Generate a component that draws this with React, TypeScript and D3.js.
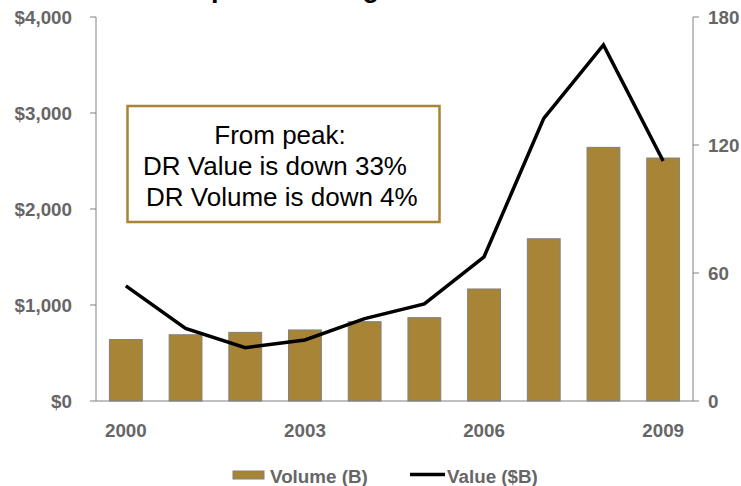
import React from "react";
import * as d3 from "d3";

const years = ["2000","2001","2002","2003","2004","2005","2006","2007","2008","2009"];
const volume = [640, 690, 715, 740, 826, 868, 1167, 1690, 2642, 2531];
const value = [54, 34, 25, 28.6, 38.6, 45.5, 67.6, 132.5, 166.9, 112.5];
const leftTicks = [0, 1000, 2000, 3000, 4000];
const rightTicks = [0, 60, 120, 180];
const xLabels = ["2000", "2003", "2006", "2009"];
const titleText = "Top DR Trading";
const boxLines = ["From peak:", "DR Value is down 33%", " DR Volume is down 4%"];
const legendItems = ["Volume (B)", "Value ($B)"];

const FONT = "'Liberation Sans', Arial, Helvetica, sans-serif";
const GOLD = "#A88436";
const GRAY = "#666666";
const AXIS = "#808080";
const LBL = 18.8;

export default function App() {
  const W = 741, H = 486;
  const left = 96, right = 693, top = 17, bottom = 401;
  const x = d3.scaleBand<string>().domain(years).range([left, right]).paddingInner(0.45).paddingOuter(0.225);
  const yL = d3.scaleLinear().domain([0, 4000]).range([bottom, top]);
  const yR = d3.scaleLinear().domain([0, 180]).range([bottom, top]);
  const fmt = (v: number) => "$" + d3.format(",")(v);
  const line = d3.line<number>()
    .x((_, i) => (x(years[i]) as number) + x.bandwidth() / 2)
    .y((d) => yR(d));

  return (
    <svg width={W} height={H} style={{ position: "absolute", left: 0, top: 0, fontFamily: FONT }}>
      <rect width={W} height={H} fill="#fff" />
      <text x={180} y={-3} fontSize={27} fontWeight="bold" fill="#000">{titleText}</text>

      {years.map((yr, i) => (
        <rect key={yr} x={x(yr)} y={yL(volume[i])} width={x.bandwidth()} height={bottom - yL(volume[i])}
          fill={GOLD} stroke={AXIS} strokeWidth={1} />
      ))}

      {/* left axis */}
      <line x1={left} x2={left} y1={top} y2={bottom} stroke={AXIS} strokeWidth={1} />
      {leftTicks.map((t) => (
        <g key={t}>
          <line x1={left - 6} x2={left} y1={yL(t)} y2={yL(t)} stroke={AXIS} />
          <text x={72} y={yL(t)} dy="0.35em" textAnchor="end" fontSize={LBL} fontWeight="bold" fill={GRAY}>{fmt(t)}</text>
        </g>
      ))}
      {/* right axis */}
      <line x1={right} x2={right} y1={top} y2={bottom} stroke={AXIS} strokeWidth={1} />
      {rightTicks.map((t) => (
        <g key={t}>
          <line x1={right} x2={right + 6} y1={yR(t)} y2={yR(t)} stroke={AXIS} />
          <text x={708} y={yR(t)} dy="0.35em" textAnchor="start" fontSize={LBL} fontWeight="bold" fill={GRAY}>{t}</text>
        </g>
      ))}
      {/* bottom axis */}
      <line x1={left} x2={right} y1={bottom} y2={bottom} stroke={AXIS} strokeWidth={1} />
      {xLabels.map((l) => (
        <text key={l} x={(x(l) as number) + x.bandwidth() / 2} y={437} textAnchor="middle" fontSize={LBL} fontWeight="bold" fill={GRAY}>{l}</text>
      ))}

      <path d={line(value) || ""} fill="none" stroke="#000" strokeWidth={3.5} strokeLinejoin="miter" />

      {/* annotation box */}
      <rect x={127.5} y={106} width={312} height={116} fill="#fff" stroke={GOLD} strokeWidth={2.5} />
      <text x={280} y={144} textAnchor="middle" fontSize={26} fill="#000">{boxLines[0]}</text>
      <text x={143} y={175} fontSize={26} fill="#000">{boxLines[1]}</text>
      <text x={146} y={206} fontSize={26} fill="#000">{boxLines[2].trim()}</text>

      {/* legend */}
      <rect x={233} y={471} width={31} height={8} fill={GOLD} stroke={AXIS} strokeWidth={1} />
      <text x={270} y={483} fontSize={LBL} fontWeight="bold" fill={GRAY}>{legendItems[0]}</text>
      <line x1={410} x2={445} y1={474.5} y2={474.5} stroke="#000" strokeWidth={3.5} />
      <text x={447} y={483} fontSize={LBL} fontWeight="bold" fill={GRAY}>{legendItems[1]}</text>
    </svg>
  );
}
